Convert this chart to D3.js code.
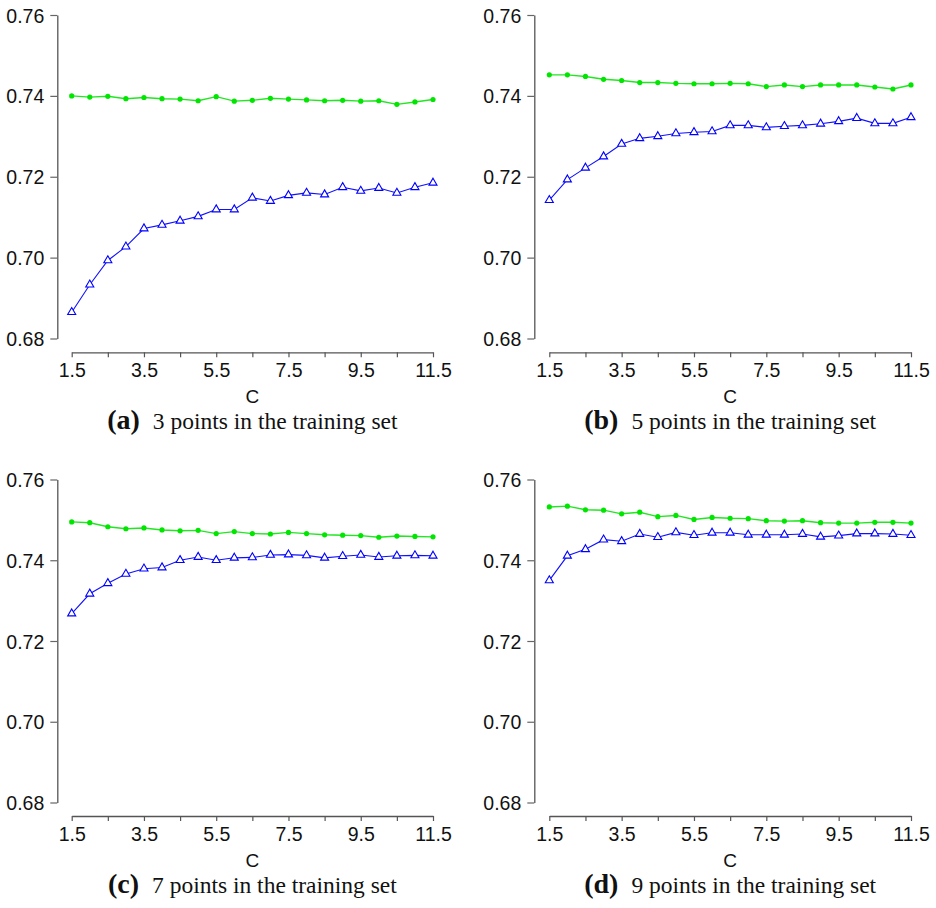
<!DOCTYPE html>
<html>
<head>
<meta charset="utf-8">
<script src="https://cdn.jsdelivr.net/npm/d3@7"></script>
<style>
  html, body { margin: 0; padding: 0; background: #fff; }
  svg { display: block; }
</style>
</head>
<body>
<script>
// values of C on the x axis
const cValues = [1.5, 2, 2.5, 3, 3.5, 4, 4.5, 5, 5.5, 6, 6.5, 7, 7.5, 8, 8.5, 9, 9.5, 10, 10.5, 11, 11.5];

const xTicks = [1.5, 2.5, 3.5, 4.5, 5.5, 6.5, 7.5, 8.5, 9.5, 10.5, 11.5];
const xTickLabels = [1.5, 3.5, 5.5, 7.5, 9.5, 11.5];
const yTicks = [0.68, 0.70, 0.72, 0.74, 0.76];

// (a) 3 points
const greenA = [0.7400, 0.7397, 0.7399, 0.7393, 0.7396, 0.7393, 0.7392, 0.7388, 0.7398, 0.7387, 0.7389,
                0.7394, 0.7392, 0.7390, 0.7388, 0.7389, 0.7387, 0.7388, 0.7379, 0.7385, 0.7391];
const blueA = [0.6865, 0.6933, 0.6993, 0.7027, 0.7072, 0.7081, 0.7091, 0.7102, 0.7119, 0.7119, 0.7148,
               0.7140, 0.7154, 0.7160, 0.7156, 0.7174, 0.7165, 0.7172, 0.7160, 0.7174, 0.7185];
// (b) 5 points
const greenB = [0.7452, 0.7452, 0.7448, 0.7441, 0.7438, 0.7433, 0.7433, 0.7431, 0.7430, 0.7430, 0.7431,
                0.7430, 0.7423, 0.7427, 0.7423, 0.7427, 0.7427, 0.7427, 0.7422, 0.7417, 0.7427];
const blueB = [0.7142, 0.7193, 0.7222, 0.7250, 0.7281, 0.7295, 0.7300, 0.7307, 0.7310, 0.7312, 0.7327,
               0.7327, 0.7322, 0.7325, 0.7327, 0.7331, 0.7337, 0.7345, 0.7332, 0.7332, 0.7347];
// (c) 7 points
const greenC = [0.7495, 0.7493, 0.7483, 0.7478, 0.7480, 0.7475, 0.7473, 0.7474, 0.7466, 0.7471, 0.7466,
                0.7465, 0.7469, 0.7466, 0.7463, 0.7462, 0.7461, 0.7457, 0.7460, 0.7459, 0.7458];
const blueC = [0.7268, 0.7317, 0.7343, 0.7366, 0.7379, 0.7382, 0.7400, 0.7408, 0.7400, 0.7406, 0.7407,
               0.7413, 0.7414, 0.7412, 0.7406, 0.7410, 0.7413, 0.7408, 0.7411, 0.7412, 0.7411];
// (d) 9 points
const greenD = [0.7532, 0.7534, 0.7525, 0.7524, 0.7515, 0.7519, 0.7508, 0.7511, 0.7501, 0.7506, 0.7504,
                0.7503, 0.7498, 0.7497, 0.7498, 0.7493, 0.7492, 0.7492, 0.7494, 0.7494, 0.7492];
const blueD = [0.7350, 0.7411, 0.7427, 0.7451, 0.7447, 0.7465, 0.7457, 0.7469, 0.7462, 0.7468, 0.7468,
               0.7463, 0.7463, 0.7463, 0.7465, 0.7458, 0.7461, 0.7466, 0.7466, 0.7465, 0.7462];

const panelLetters = ["a", "b", "c", "d"];
const trainingPoints = [3, 5, 7, 9];
const greenSeries = [greenA, greenB, greenC, greenD];
const blueSeries = [blueA, blueB, blueC, blueD];

const svg = d3.select("body").append("svg").attr("width", 936).attr("height", 908);

const sans = "'Liberation Sans', Helvetica, Arial, sans-serif";
const serif = "'Liberation Serif', 'Times New Roman', serif";

// where each panel sits
const layout = [
  {x0: 71.7, x1: 433, axisX: 57.3, yTop: 15, yBot: 338.5, xAxisY: 352.3},
  {x0: 549.3, x1: 911, axisX: 534.3, yTop: 15, yBot: 338.5, xAxisY: 352.3},
  {x0: 71.7, x1: 433, axisX: 57.3, yTop: 479.5, yBot: 802.5, xAxisY: 816},
  {x0: 549.3, x1: 911, axisX: 534.3, yTop: 479.5, yBot: 802.5, xAxisY: 816}
];

const triangle = d3.symbol().type(d3.symbolTriangle).size(28);

layout.forEach((p, i) => {
  const g = svg.append("g");
  const x = d3.scaleLinear().domain([1.5, 11.5]).range([p.x0, p.x1]);
  const y = d3.scaleLinear().domain([0.68, 0.76]).range([p.yBot, p.yTop]);

  // y axis
  const ya = g.append("g").attr("transform", `translate(${p.axisX},0)`)
    .call(d3.axisLeft(y).tickValues(yTicks).tickFormat(d3.format(".2f"))
      .tickSize(7).tickSizeOuter(0).tickPadding(6));
  ya.select(".domain").attr("stroke", "#555").attr("stroke-width", 1.3);
  ya.selectAll(".tick line").attr("stroke", "#666").attr("stroke-width", 1.2);
  ya.selectAll(".tick text").attr("font-family", sans).attr("font-size", 19.5).attr("fill", "#111").attr("dy", "0.36em");

  // x axis
  const xa = g.append("g").attr("transform", `translate(0,${p.xAxisY})`)
    .call(d3.axisBottom(x).tickValues(xTicks)
      .tickFormat(d => xTickLabels.includes(d) ? d3.format(".1f")(d) : "")
      .tickSize(5).tickSizeOuter(0).tickPadding(6));
  xa.select(".domain").attr("stroke", "#555").attr("stroke-width", 1.3);
  xa.selectAll(".tick line").attr("stroke", "#555").attr("stroke-width", 1.2);
  xa.selectAll(".tick text").attr("font-family", sans).attr("font-size", 19.5).attr("fill", "#111");

  const cx = (p.x0 + p.x1) / 2;
  g.append("text").attr("x", cx).attr("y", p.xAxisY + 50.5)
    .attr("text-anchor", "middle").attr("font-family", sans).attr("font-size", 19).attr("fill", "#111")
    .text("C");

  const cap = g.append("text").attr("x", cx).attr("y", p.xAxisY + 77)
    .attr("text-anchor", "middle").attr("font-family", serif).attr("fill", "#111");
  cap.append("tspan").attr("font-weight", "bold").attr("font-size", 28).text(`(${panelLetters[i]})`);
  cap.append("tspan").attr("dx", 13).attr("font-size", 23.5).text(`${trainingPoints[i]} points in the training set`);

  const line = d3.line().x((d, k) => x(cValues[k])).y(d => y(d));

  // green series
  g.append("path").datum(greenSeries[i]).attr("d", line)
    .attr("fill", "none").attr("stroke", "#22e622").attr("stroke-width", 1.4);
  g.selectAll(".gdot").data(greenSeries[i]).enter().append("circle")
    .attr("class", "gdot")
    .attr("cx", (d, k) => x(cValues[k])).attr("cy", d => y(d)).attr("r", 2.6)
    .attr("fill", "#00e600");

  // blue series
  g.append("path").datum(blueSeries[i]).attr("d", line)
    .attr("fill", "none").attr("stroke", "#1010ff").attr("stroke-width", 1.1);
  g.selectAll(".btri").data(blueSeries[i]).enter().append("path")
    .attr("class", "btri")
    .attr("d", triangle)
    .attr("transform", (d, k) => `translate(${x(cValues[k])},${y(d)})`)
    .attr("fill", "#fff").attr("stroke", "#0000ff").attr("stroke-width", 1.1);
});
</script>
</body>
</html>
